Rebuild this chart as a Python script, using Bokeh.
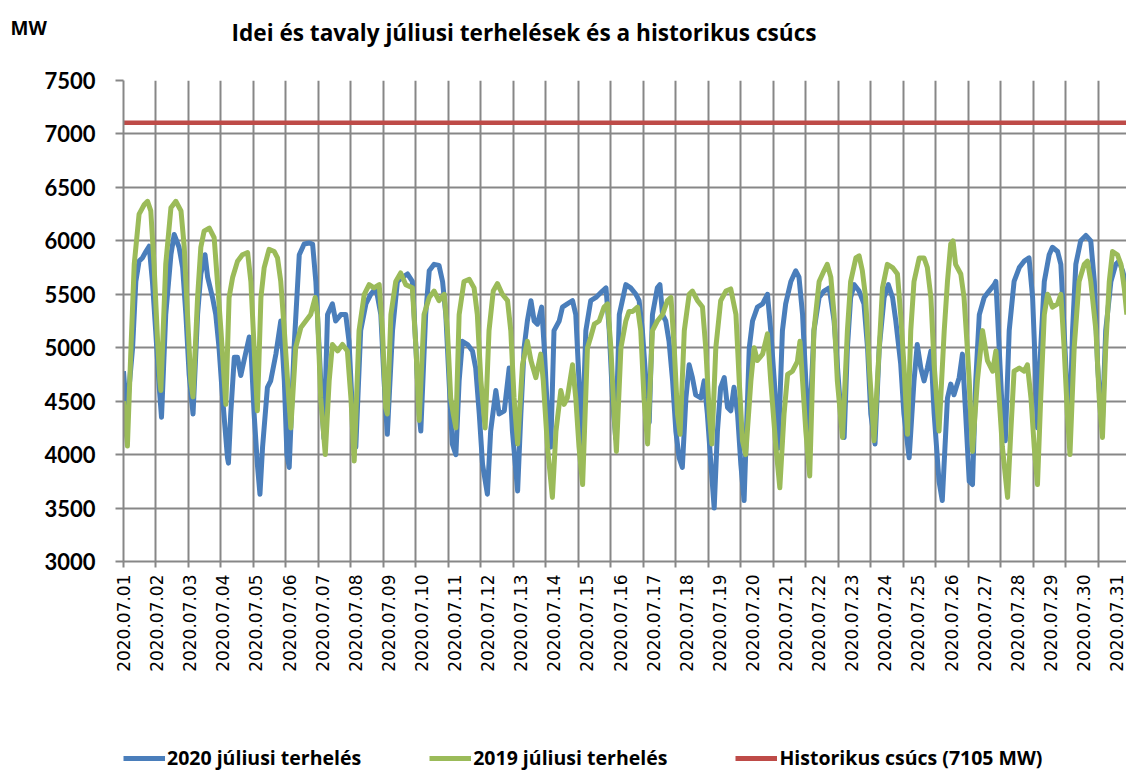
import math
from bokeh.plotting import figure
from bokeh.layouts import column
from bokeh.models import Range1d, FixedTicker, Legend, LegendItem, Label
from bokeh.embed import file_html
from bokeh.resources import INLINE

# ---------------- data ----------------
date_labels = [f"2020.07.{d:02d}" for d in range(1, 32)]
y_ticks = [3000, 3500, 4000, 4500, 5000, 5500, 6000, 6500, 7000, 7500]
peak_mw = 7105

# 2020 July load (time in days from 07.01 00:00, grid units), MW
load2020_day = [
    0.00, 0.10, 0.28, 0.38, 0.48, 0.58, 0.69, 0.79, 0.89, 0.99, 1.10, 1.17, 1.30, 1.46, 1.56, 1.71, 1.82, 1.92,
    2.02, 2.14, 2.28, 2.38, 2.51, 2.59, 2.74, 2.84, 2.94, 3.05, 3.20, 3.23, 3.30, 3.41, 3.51, 3.61, 3.71, 3.87,
    3.92, 4.02, 4.12, 4.20, 4.28, 4.43, 4.53, 4.69, 4.84, 4.95, 5.03, 5.10, 5.25, 5.41, 5.56, 5.71, 5.82, 5.92,
    6.02, 6.12, 6.17, 6.28, 6.43, 6.53, 6.69, 6.84, 6.94, 7.05, 7.15, 7.30, 7.46, 7.61, 7.77, 7.92, 8.02, 8.12,
    8.28, 8.43, 8.59, 8.74, 8.89, 9.00, 9.10, 9.15, 9.30, 9.41, 9.56, 9.71, 9.82, 9.92, 10.02, 10.12, 10.23,
    10.33, 10.43, 10.59, 10.74, 10.84, 10.95, 11.05, 11.20, 11.30, 11.46, 11.56, 11.72, 11.87, 11.97, 12.13,
    12.23, 12.33, 12.43, 12.54, 12.64, 12.74, 12.87, 12.95, 13.05, 13.15, 13.25, 13.41, 13.51, 13.66, 13.82,
    13.92, 14.02, 14.11, 14.23, 14.38, 14.54, 14.74, 14.85, 14.95, 15.05, 15.15, 15.26, 15.46, 15.61, 15.77,
    15.87, 15.97, 16.08, 16.18, 16.28, 16.43, 16.51, 16.59, 16.69, 16.79, 16.90, 17.00, 17.10, 17.20, 17.31,
    17.41, 17.51, 17.61, 17.77, 17.87, 17.97, 18.08, 18.18, 18.28, 18.38, 18.49, 18.59, 18.69, 18.79, 18.90,
    19.00, 19.10, 19.26, 19.36, 19.51, 19.67, 19.82, 19.92, 20.03, 20.15, 20.28, 20.38, 20.54, 20.69, 20.79,
    20.90, 21.00, 21.10, 21.25, 21.41, 21.56, 21.72, 21.87, 21.97, 22.08, 22.18, 22.28, 22.38, 22.49, 22.64,
    22.79, 22.90, 23.00, 23.13, 23.26, 23.41, 23.54, 23.67, 23.77, 23.92, 24.02, 24.18, 24.33, 24.43, 24.54,
    24.64, 24.74, 24.85, 24.95, 25.10, 25.20, 25.36, 25.46, 25.56, 25.72, 25.82, 25.92, 26.03, 26.13, 26.23,
    26.34, 26.49, 26.64, 26.80, 26.85, 26.95, 27.05, 27.14, 27.26, 27.41, 27.57, 27.72, 27.87, 27.98, 28.08,
    28.13, 28.23, 28.34, 28.49, 28.59, 28.75, 28.85, 28.95, 29.05, 29.13, 29.21, 29.31, 29.46, 29.62, 29.77,
    29.88, 29.98, 30.08, 30.13, 30.23, 30.39, 30.54, 30.64, 30.75, 30.88,
]
load2020_mw = [
    4780, 4380, 5000, 5620, 5810, 5840, 5900, 5950, 5620, 5160, 4630, 4350, 5310, 5870, 6060, 5940, 5750, 5310,
    4750, 4380, 5310, 5690, 5870, 5660, 5470, 5310, 5000, 4530, 3970, 3920, 4380, 4910, 4910, 4740, 4880, 5100,
    5000, 4380, 3910, 3630, 4070, 4630, 4690, 4940, 5250, 4690, 4000, 3880, 5000, 5870, 5970, 5980, 5970, 5620,
    5000, 4380, 4150, 5310, 5410, 5250, 5310, 5310, 5060, 4380, 4070, 5160, 5410, 5500, 5560, 5310, 4690, 4190,
    5160, 5620, 5660, 5690, 5620, 5000, 4380, 4220, 5310, 5720, 5780, 5770, 5620, 5310, 4690, 4100, 4000,
    4690, 5060, 5030, 4970, 4810, 4380, 3910, 3630, 4220, 4600, 4380, 4410, 4810, 4220, 3660,
    4380, 5000, 5250, 5440, 5250, 5220, 5380, 5000, 4380, 4070, 5160, 5250, 5380, 5410, 5440,
    5310, 4690, 4070, 5160, 5440, 5470, 5530, 5560, 5160, 4530, 4150, 5310, 5590, 5560, 5500,
    5440, 5160, 4690, 4300, 5310, 5560, 5590, 5310, 5250, 5060, 4690, 4220, 3970, 3880, 4530,
    4840, 4720, 4560, 4530, 4690, 4380, 3910, 3500, 4220, 4630, 4720, 4440, 4410, 4630, 4380,
    3910, 3570, 5000, 5250, 5380, 5410, 5500, 5160, 4690, 4060, 5160, 5410, 5620, 5720, 5660,
    5310, 4690, 4150, 5160, 5470, 5530, 5560, 5250, 4840, 4380, 4160, 5000, 5470, 5590, 5530,
    5410, 5000, 4380, 4100, 5000, 5470, 5590, 5470, 5250, 4850, 4380, 3970, 4690, 5030, 4810,
    4690, 4810, 4970, 4380, 3750, 3570, 4530, 4660, 4560, 4720, 4940, 4380, 3750, 3720, 4690,
    5310, 5470, 5530, 5590, 5620, 5000, 4380, 4130, 5160, 5620, 5750, 5810, 5840, 5470, 4690,
    4250, 5000, 5620, 5870, 5940, 5900, 5780, 5160, 4530, 4320, 5160, 5780, 6000, 6050, 6000,
    5620, 4840, 4380, 4320, 5160, 5620, 5780, 5810, 5720, 5560,
]

# 2019 July load
load2019_day = [
    0.00, 0.12, 0.23, 0.33, 0.48, 0.64, 0.74, 0.84, 0.94, 1.05, 1.12, 1.15, 1.30, 1.46, 1.61, 1.77, 1.87, 1.97,
    2.07, 2.14, 2.28, 2.38, 2.48, 2.64, 2.79, 2.89, 3.00, 3.10, 3.15, 3.25, 3.36, 3.51, 3.66, 3.82, 3.92, 4.02,
    4.12, 4.23, 4.33, 4.48, 4.64, 4.74, 4.84, 4.95, 5.05, 5.15, 5.30, 5.46, 5.61, 5.76, 5.90, 5.97, 6.07, 6.21,
    6.33, 6.43, 6.59, 6.74, 6.89, 7.00, 7.10, 7.25, 7.41, 7.56, 7.71, 7.87, 7.97, 8.07, 8.12, 8.23, 8.38, 8.53,
    8.69, 8.89, 9.00, 9.10, 9.25, 9.41, 9.56, 9.71, 9.87, 9.97, 10.07, 10.15, 10.23, 10.33, 10.48, 10.64, 10.79,
    10.89, 11.00, 11.13, 11.25, 11.38, 11.51, 11.66, 11.82, 11.92, 12.02, 12.13, 12.28, 12.43, 12.54, 12.69,
    12.84, 12.92, 13.05, 13.20, 13.31, 13.46, 13.56, 13.66, 13.82, 13.92, 14.02, 14.13, 14.28, 14.38, 14.49,
    14.64, 14.79, 14.90, 15.00, 15.10, 15.17, 15.31, 15.46, 15.56, 15.67, 15.82, 15.92, 16.02, 16.13, 16.28,
    16.43, 16.59, 16.74, 16.85, 16.95, 17.05, 17.13, 17.26, 17.41, 17.51, 17.67, 17.82, 17.92, 18.03, 18.11,
    18.23, 18.38, 18.54, 18.69, 18.85, 18.95, 19.05, 19.15, 19.31, 19.41, 19.51, 19.67, 19.82, 19.92, 20.08,
    20.20, 20.33, 20.44, 20.59, 20.74, 20.82, 20.90, 21.00, 21.12, 21.25, 21.41, 21.56, 21.66, 21.77, 21.87,
    21.97, 22.13, 22.28, 22.38, 22.54, 22.64, 22.74, 22.84, 22.95, 23.10, 23.26, 23.36, 23.51, 23.67, 23.82,
    23.92, 24.02, 24.13, 24.23, 24.33, 24.49, 24.64, 24.74, 24.85, 24.95, 25.10, 25.26, 25.36, 25.46, 25.53,
    25.61, 25.77, 25.87, 25.97, 26.03, 26.13, 26.28, 26.44, 26.59, 26.75, 26.85, 26.95, 27.05, 27.21, 27.31,
    27.41, 27.57, 27.72, 27.82, 27.93, 28.03, 28.13, 28.23, 28.34, 28.44, 28.59, 28.75, 28.85, 28.95, 29.05,
    29.13, 29.26, 29.41, 29.57, 29.67, 29.77, 29.93, 30.03, 30.13, 30.23, 30.34, 30.44, 30.59, 30.70, 30.80,
    30.88,
]
load2019_mw = [
    4500, 4080, 5000, 5780, 6250, 6340, 6370, 6280, 5780, 5060, 4690, 4600, 5780, 6310, 6370, 6280, 5940, 5310,
    4690, 4540, 5470, 5940, 6090, 6120, 6030, 5620, 5160, 4690, 4470, 5470, 5660, 5810, 5870, 5890, 5620, 5000,
    4410, 5470, 5750, 5920, 5900, 5840, 5620, 5160, 4690, 4250, 5000, 5190, 5250, 5310, 5470, 5310, 4530, 4000,
    4690, 5030, 4970, 5030, 4970, 4530, 3940, 5160, 5500, 5590, 5560, 5590, 5160, 4440, 4380, 5310, 5620, 5700,
    5590, 5560, 5000, 4320, 5310, 5470, 5530, 5440, 5500, 5160, 4530, 4380, 4250, 5310, 5620, 5640, 5560,
    5310, 4690, 4250, 5160, 5530, 5600, 5500, 5440, 5160, 4530, 4100, 4840, 5060, 4880, 4720,
    4940, 4690, 4070, 3600, 4220, 4600, 4470, 4530, 4840, 4530, 4070, 3720, 5000, 5100, 5220,
    5250, 5380, 5410, 5000, 4380, 4030, 5000, 5250, 5340, 5340, 5380, 5160, 4530, 4100, 5160,
    5250, 5310, 5440, 5470, 5000, 4380, 4190, 5160, 5500, 5530, 5440, 5380, 5000, 4380, 4100,
    5000, 5440, 5530, 5550, 5310, 4690, 4130, 4000, 4690, 5000, 4880, 4940, 5130, 4690, 4070,
    3690, 4380, 4750, 4780, 4870, 5060, 4690, 4220, 3800, 5160, 5620, 5720, 5780, 5660, 5310,
    4690, 4160, 5160, 5620, 5840, 5860, 5720, 5470, 4840, 4130, 5000, 5560, 5780, 5750, 5690,
    5310, 4840, 4190, 5160, 5620, 5840, 5840, 5750, 5470, 4840, 4220, 5160, 5620, 5970, 6000,
    5780, 5690, 5470, 5000, 4690, 4030, 4690, 5160, 4880, 4780, 4970, 4530, 4070, 3600, 4220,
    4780, 4810, 4780, 4840, 4530, 4070, 3720, 4530, 5310, 5500, 5380, 5410, 5500, 5000, 4380,
    4000, 5000, 5620, 5780, 5810, 5620, 5160, 4530, 4160, 5000, 5620, 5900, 5870, 5780, 5560,
    5310,
]

# ---------------- layout constants ----------------
grid_pos = list(range(0, 32))
label_step = 1.0188
label_pos = [round(k * label_step, 4) for k in range(len(date_labels))]

GRID = "#878787"
BLUE = "#4A7EBB"
GREEN = "#9BBB59"
RED = "#BE4B48"
LEGEND_H = 30
NAN = float("nan")

p = figure(width=1126, height=771 - LEGEND_H, output_backend="svg", toolbar_location=None,
           x_range=Range1d(0, 30.87), y_range=Range1d(3000, 7500),
           min_border_left=123, min_border_right=0, min_border_top=80, min_border_bottom=180)
p.outline_line_color = None
p.background_fill_color = "white"
p.border_fill_color = "white"

# title
p.title.text = "Idei és tavaly júliusi terhelések és a historikus csúcs"
p.title.text_font = "Open Sans"
p.title.text_font_style = "bold"
p.title.text_font_size = "22.6px"
p.title.align = "left"
p.title.offset = 108
p.title.standoff = 14
p.title.text_color = "black"

# axes
yax = p.yaxis[0]
yax.ticker = FixedTicker(ticks=y_ticks)
yax.major_label_text_font = "Lato"
yax.major_label_text_font_style = "bold"
yax.major_label_text_font_size = "22px"
yax.major_label_text_color = "black"
yax.major_label_standoff = 20
yax.major_tick_out = 8
yax.major_tick_in = 0
yax.minor_tick_line_color = None
yax.major_tick_line_color = GRID
yax.major_tick_line_width = 2
yax.axis_line_color = GRID
yax.axis_line_width = 2

xax = p.xaxis[0]
xax.ticker = FixedTicker(ticks=label_pos, minor_ticks=grid_pos)
xax.major_label_overrides = {pos: lab for pos, lab in zip(label_pos, date_labels)}
xax.major_label_orientation = math.pi / 2
xax.major_label_text_font = "DejaVu Sans"
xax.major_label_text_font_size = "17px"
xax.major_label_text_color = "black"
xax.major_label_standoff = 7
xax.major_tick_out = 0
xax.major_tick_in = 0
xax.minor_tick_out = 6
xax.minor_tick_in = 0
xax.minor_tick_line_color = GRID
xax.minor_tick_line_width = 2
xax.axis_line_color = GRID
xax.axis_line_width = 2

p.xgrid.ticker = FixedTicker(ticks=grid_pos)
p.ygrid.ticker = FixedTicker(ticks=y_ticks)
for g in (p.xgrid[0], p.ygrid[0]):
    g.grid_line_color = GRID
    g.grid_line_width = 2

# series
p.line(load2020_day, load2020_mw, line_color=BLUE, line_width=5, line_join="round")
p.line(load2019_day, load2019_mw, line_color=GREEN, line_width=5, line_join="round")
p.line([load2020_day[0], load2020_day[-1]], [peak_mw, peak_mw], line_color=RED, line_width=4.5)

mw_label = Label(x=-113, y=53, x_units="screen", y_units="screen", text="MW",
                 text_font="Open Sans", text_font_style="bold", text_font_size="19px",
                 text_baseline="middle", text_align="left", text_color="black")
p.add_layout(mw_label, "above")

# ---------------- legend strip (same series styles) ----------------
lg = figure(width=1126, height=LEGEND_H, output_backend="svg", toolbar_location=None,
            x_range=Range1d(0, 1), y_range=Range1d(0, 1), x_axis_type=None, y_axis_type=None,
            min_border_left=0, min_border_right=0, min_border_top=0, min_border_bottom=0)
lg.outline_line_color = None
lg.grid.visible = False
lg.background_fill_color = "white"
lg.border_fill_color = "white"
k2020 = lg.line([NAN], [NAN], line_color=BLUE, line_width=5)
k2019 = lg.line([NAN], [NAN], line_color=GREEN, line_width=5)
kpeak = lg.line([NAN], [NAN], line_color=RED, line_width=5)

legend = Legend(items=[
    LegendItem(label="2020 júliusi terhelés", renderers=[k2020]),
    LegendItem(label="2019 júliusi terhelés", renderers=[k2019]),
    LegendItem(label=f"Historikus csúcs ({peak_mw} MW)", renderers=[kpeak]),
], orientation="horizontal", location=(0, 0))
legend.glyph_width = 42
legend.glyph_height = 20
legend.label_height = 20
legend.label_standoff = 2
legend.spacing = 68
legend.padding = 0
legend.margin = 0
legend.border_line_color = None
legend.background_fill_alpha = 0
legend.label_text_font = "Open Sans"
legend.label_text_font_style = "bold"
legend.label_text_font_size = "19.5px"
legend.label_text_color = "black"
lg.add_layout(legend)

open("out.html", "w").write(file_html(column(p, lg, spacing=0), INLINE))
